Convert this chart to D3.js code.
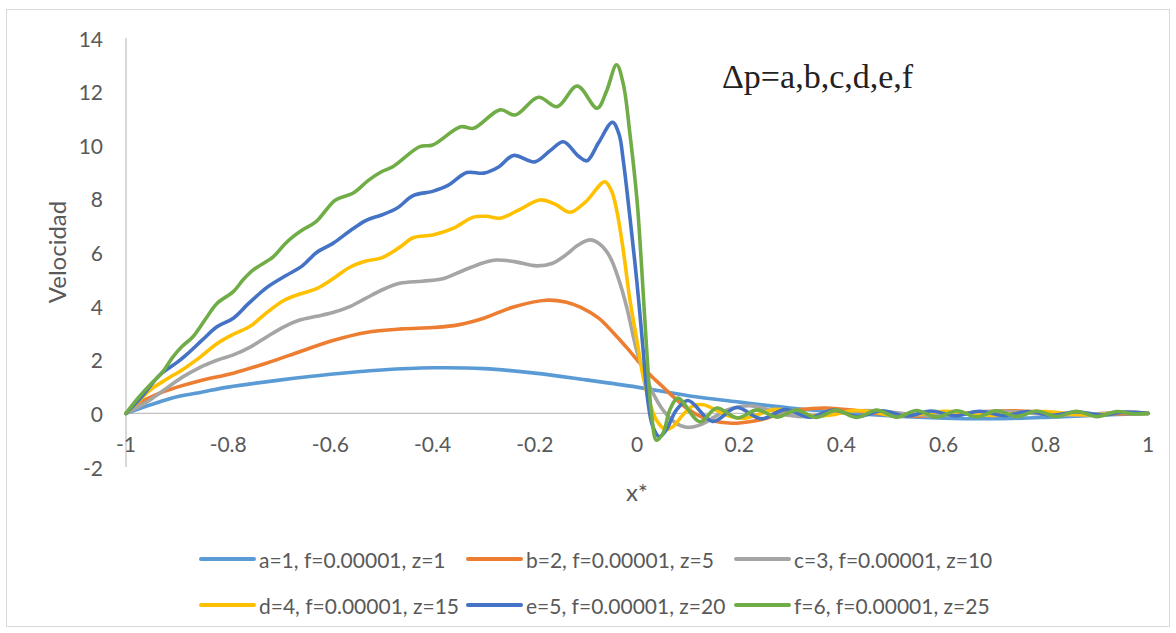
<!DOCTYPE html>
<html>
<head>
<meta charset="utf-8">
<script src="https://cdn.jsdelivr.net/npm/d3@7"></script>
<style>
  html, body { margin: 0; padding: 0; background: #fff; }
  svg { display: block; }
</style>
</head>
<body>
<svg id="chart" width="1176" height="633"></svg>
<script>
// ---------- data ----------
const xTicks = [-1, -0.8, -0.6, -0.4, -0.2, 0, 0.2, 0.4, 0.6, 0.8, 1];
const yTicks = [-2, 0, 2, 4, 6, 8, 10, 12, 14];

const seriesNames = [
  "a=1, f=0.00001, z=1",
  "b=2, f=0.00001, z=5",
  "c=3, f=0.00001, z=10",
  "d=4, f=0.00001, z=15",
  "e=5, f=0.00001, z=20",
  "f=6, f=0.00001, z=25"
];
const seriesColors = ["#5B9BD5", "#ED7D31", "#A5A5A5", "#FFC000", "#4472C4", "#70AD47"];

const seriesA = [[-1,0],[-0.95,0.33],[-0.9,0.62],[-0.85,0.8],[-0.8,0.98],[-0.7,1.24],[-0.6,1.46],[-0.5,1.62],[-0.4,1.7],[-0.3,1.67],[-0.2,1.5],[-0.1,1.25],[0,0.98],[0.1,0.66],[0.2,0.42],[0.3,0.2],[0.4,0.03],[0.5,-0.1],[0.6,-0.18],[0.7,-0.2],[0.8,-0.15],[0.9,-0.07],[1,0]];

const seriesB = [[-1,0],[-0.97,0.42],[-0.933,0.76],[-0.9,0.98],[-0.855,1.22],[-0.79,1.5],[-0.724,1.88],[-0.66,2.3],[-0.595,2.72],[-0.53,3.02],[-0.46,3.15],[-0.4,3.2],[-0.35,3.3],[-0.3,3.55],[-0.24,3.98],[-0.177,4.22],[-0.14,4.15],[-0.11,3.95],[-0.075,3.55],[-0.046,3.0],[-0.02,2.45],[0,2.0],[0.025,1.45],[0.05,1.0],[0.075,0.55],[0.1,0.15],[0.125,-0.12],[0.15,-0.28],[0.18,-0.36],[0.2,-0.36],[0.24,-0.25],[0.28,-0.02],[0.32,0.14],[0.37,0.2],[0.42,0.12],[0.48,-0.02],[0.54,-0.1],[0.6,-0.06],[0.67,0.05],[0.73,0.1],[0.8,0.04],[0.87,-0.05],[0.93,-0.02],[1,0]];

const seriesC = [[-1,0],[-0.975,0.25],[-0.953,0.5],[-0.92,0.95],[-0.888,1.37],[-0.855,1.72],[-0.822,1.98],[-0.79,2.18],[-0.757,2.47],[-0.725,2.85],[-0.692,3.22],[-0.66,3.48],[-0.627,3.62],[-0.595,3.76],[-0.562,3.98],[-0.53,4.3],[-0.497,4.62],[-0.464,4.85],[-0.42,4.93],[-0.38,5.02],[-0.34,5.33],[-0.3,5.62],[-0.275,5.72],[-0.24,5.66],[-0.196,5.5],[-0.165,5.6],[-0.144,5.84],[-0.115,6.28],[-0.092,6.47],[-0.072,6.3],[-0.053,5.84],[-0.035,4.95],[-0.02,3.95],[0,2.3],[0.012,1.62],[0.03,0.8],[0.051,0.12],[0.075,-0.35],[0.097,-0.52],[0.125,-0.42],[0.15,-0.15],[0.175,0.12],[0.2,0.25],[0.225,0.28],[0.26,0.12],[0.3,-0.08],[0.34,-0.12],[0.39,0.0],[0.44,0.1],[0.5,0.04],[0.56,-0.08],[0.62,-0.04],[0.68,0.07],[0.74,0.06],[0.8,-0.04],[0.86,-0.07],[0.92,0.01],[0.96,0.04],[1,0]];

const seriesD = [[-1,0],[-0.975,0.45],[-0.953,0.87],[-0.92,1.28],[-0.888,1.65],[-0.855,2.1],[-0.822,2.6],[-0.79,2.95],[-0.757,3.25],[-0.725,3.75],[-0.692,4.2],[-0.66,4.45],[-0.627,4.65],[-0.595,5.02],[-0.562,5.45],[-0.53,5.68],[-0.5,5.8],[-0.464,6.2],[-0.438,6.55],[-0.4,6.65],[-0.36,6.9],[-0.32,7.32],[-0.295,7.35],[-0.268,7.28],[-0.23,7.6],[-0.19,7.96],[-0.16,7.8],[-0.131,7.5],[-0.1,7.9],[-0.063,8.64],[-0.05,8.3],[-0.04,7.6],[-0.027,6.1],[-0.014,4.25],[0,2.7],[0.012,1.37],[0.025,0.38],[0.038,-0.25],[0.055,-0.6],[0.07,-0.5],[0.09,-0.05],[0.11,0.28],[0.13,0.32],[0.155,0.12],[0.18,-0.1],[0.21,-0.18],[0.24,-0.02],[0.27,0.15],[0.3,0.1],[0.34,-0.08],[0.38,-0.06],[0.42,0.1],[0.46,0.06],[0.5,-0.08],[0.55,-0.04],[0.6,0.08],[0.65,0.0],[0.7,-0.08],[0.75,0.02],[0.8,0.07],[0.85,-0.03],[0.9,-0.05],[0.95,0.04],[1,0]];

const seriesE = [[-1,0],[-0.97,0.6],[-0.933,1.45],[-0.9,1.9],[-0.881,2.2],[-0.85,2.75],[-0.822,3.23],[-0.79,3.55],[-0.76,4.1],[-0.724,4.7],[-0.685,5.16],[-0.655,5.5],[-0.627,6.0],[-0.595,6.34],[-0.562,6.8],[-0.53,7.2],[-0.5,7.4],[-0.47,7.65],[-0.438,8.12],[-0.4,8.28],[-0.37,8.5],[-0.333,8.98],[-0.3,8.96],[-0.27,9.2],[-0.242,9.62],[-0.2,9.38],[-0.17,9.8],[-0.144,10.13],[-0.115,9.6],[-0.098,9.42],[-0.075,10.1],[-0.048,10.86],[-0.035,10.4],[-0.027,9.45],[-0.014,7.34],[0,4.86],[0.012,2.37],[0.021,0.5],[0.031,-0.5],[0.044,-0.87],[0.057,-0.62],[0.077,0.12],[0.1,0.48],[0.148,-0.3],[0.195,0.22],[0.243,-0.2],[0.29,0.14],[0.338,-0.14],[0.385,0.12],[0.433,-0.12],[0.48,0.1],[0.528,-0.1],[0.575,0.09],[0.623,-0.09],[0.67,0.08],[0.718,-0.08],[0.765,0.07],[0.813,-0.07],[0.86,0.06],[0.908,-0.06],[0.955,0.05],[1,0]];

const seriesF = [[-1,0],[-0.975,0.6],[-0.947,1.18],[-0.93,1.5],[-0.908,2.11],[-0.89,2.5],[-0.869,2.86],[-0.845,3.5],[-0.822,4.1],[-0.79,4.54],[-0.77,5.0],[-0.751,5.35],[-0.712,5.84],[-0.69,6.3],[-0.673,6.59],[-0.655,6.84],[-0.628,7.15],[-0.59,7.96],[-0.556,8.21],[-0.525,8.7],[-0.5,9.01],[-0.478,9.2],[-0.425,9.95],[-0.4,10.01],[-0.345,10.69],[-0.32,10.63],[-0.268,11.32],[-0.238,11.13],[-0.193,11.79],[-0.156,11.44],[-0.117,12.21],[-0.078,11.38],[-0.06,12.0],[-0.04,13.0],[-0.027,12.3],[-0.014,10.45],[0,7.96],[0.009,5.47],[0.019,2.36],[0.029,-0.13],[0.038,-1.0],[0.051,-0.74],[0.064,0.12],[0.08,0.57],[0.123,-0.31],[0.156,0.2],[0.196,-0.17],[0.235,0.13],[0.274,-0.14],[0.3125,0.12],[0.35,-0.15],[0.39,0.12],[0.43,-0.15],[0.469,0.12],[0.508,-0.14],[0.547,0.11],[0.587,-0.14],[0.626,0.1],[0.665,-0.13],[0.704,0.1],[0.743,-0.12],[0.782,0.09],[0.821,-0.12],[0.86,0.08],[0.9,-0.12],[0.939,0.07],[0.97,-0.02],[1,0]];

const allSeries = [seriesA, seriesB, seriesC, seriesD, seriesE, seriesF];

const annotationText = "\u0394p=a,b,c,d,e,f";
const xTitle = "x*";
const yTitle = "Velocidad";

// ---------- drawing ----------
const svg = d3.select("#chart");
const fontSans = "Lato, Carlito, Calibri, 'Open Sans', sans-serif";
const textColor = "#595959";

svg.append("rect")
  .attr("x", 6.5).attr("y", 9.5)
  .attr("width", 1163).attr("height", 617)
  .attr("fill", "#fff").attr("stroke", "#d9d9d9").attr("stroke-width", 1);

const x = d3.scaleLinear().domain([-1, 1]).range([126, 1148]);
const y = d3.scaleLinear().domain([-2, 14]).range([467, 38]);

// axis lines
svg.append("line")
  .attr("x1", x(-1)).attr("x2", x(-1))
  .attr("y1", y(14)).attr("y2", y(-2))
  .attr("stroke", "#bfbfbf").attr("stroke-width", 1.2);
svg.append("line")
  .attr("x1", x(-1)).attr("x2", x(1))
  .attr("y1", y(0)).attr("y2", y(0))
  .attr("stroke", "#bfbfbf").attr("stroke-width", 1.2);

const fmt = v => { const s = String(+v.toFixed(1)); return s === "-0" ? "0" : s; };

// y tick labels
svg.append("g").selectAll("text").data(yTicks).join("text")
  .attr("x", 103).attr("y", d => y(d))
  .attr("text-anchor", "end").attr("dominant-baseline", "central")
  .attr("font-family", fontSans).attr("font-size", 21).attr("fill", textColor)
  .text(fmt);

// x tick labels
svg.append("g").selectAll("text").data(xTicks).join("text")
  .attr("x", d => x(d)).attr("y", 452)
  .attr("text-anchor", "middle")
  .attr("font-family", fontSans).attr("font-size", 21).attr("fill", textColor)
  .text(fmt);

// axis titles
svg.append("text")
  .attr("transform", "translate(56,252) rotate(-90)")
  .attr("text-anchor", "middle").attr("dominant-baseline", "central")
  .attr("font-family", fontSans).attr("font-size", 24).attr("fill", textColor)
  .text(yTitle);
svg.append("text")
  .attr("x", 637).attr("y", 491)
  .attr("text-anchor", "middle").attr("dominant-baseline", "central")
  .attr("font-family", fontSans).attr("font-size", 24).attr("fill", textColor)
  .text(xTitle);

// lines
const line = d3.line()
  .x(d => x(d[0])).y(d => y(d[1]))
  .curve(d3.curveCatmullRom.alpha(0.5));

svg.append("g").selectAll("path").data(allSeries).join("path")
  .attr("d", line)
  .attr("fill", "none")
  .attr("stroke", (d, i) => seriesColors[i])
  .attr("stroke-width", 3.6)
  .attr("stroke-linejoin", "round")
  .attr("stroke-linecap", "round");

// annotation
svg.append("text")
  .attr("x", 722).attr("y", 88)
  .attr("font-family", "'Liberation Serif', 'Times New Roman', serif")
  .attr("font-size", 34).attr("fill", "#222")
  .text(annotationText);

// legend
const legendCols = [201, 468, 736];
const legendRows = [559, 605];
const legend = svg.append("g").selectAll("g").data(seriesNames).join("g")
  .attr("transform", (d, i) => `translate(${legendCols[i % 3]},${legendRows[Math.floor(i / 3)]})`);
legend.append("line")
  .attr("x1", 0).attr("x2", 53).attr("y1", 0).attr("y2", 0)
  .attr("stroke", (d, i) => seriesColors[i]).attr("stroke-width", 4)
  .attr("stroke-linecap", "round");
legend.append("text")
  .attr("x", 58).attr("y", 0)
  .attr("dominant-baseline", "central")
  .attr("font-family", fontSans).attr("font-size", 21).attr("fill", textColor)
  .text(d => d);
</script>
</body>
</html>
